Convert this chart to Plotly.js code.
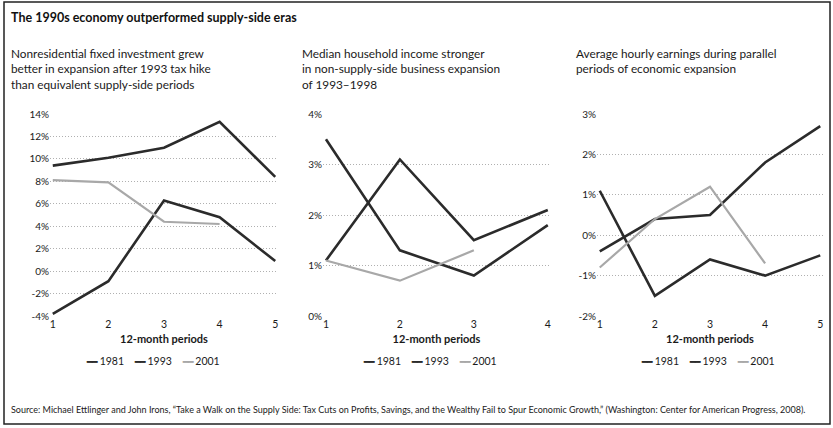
<!DOCTYPE html>
<html><head><meta charset="utf-8">
<script src="https://cdn.plot.ly/plotly-3.0.1.min.js"></script>
<style>html,body{margin:0;padding:0;background:#fff}#chart{width:833px;height:428px}</style>
</head><body><div id="chart"></div>
<script>
// ---- Data ----
const seriesNames = ['1981', '1993', '2001'];
const seriesColors = ['#2b2b2b', '#2b2b2b', '#a8a8a8'];

// Panel 1: Nonresidential fixed investment growth (%)
const p1Periods = [1, 2, 3, 4, 5];
const p1_1981 = [-3.8, -0.9, 6.3, 4.8, 0.9];
const p1_1993 = [9.4, 10.1, 11.0, 13.3, 8.4];
const p1_2001 = [8.1, 7.9, 4.4, 4.2];

// Panel 2: Median household income growth (%)
const p2Periods = [1, 2, 3, 4];
const p2_1981 = [3.5, 1.3, 0.8, 1.8];
const p2_1993 = [1.1, 3.1, 1.5, 2.1];
const p2_2001 = [1.1, 0.7, 1.3];

// Panel 3: Average hourly earnings growth (%)
const p3Periods = [1, 2, 3, 4, 5];
const p3_1981 = [1.1, -1.5, -0.6, -1.0, -0.5];
const p3_1993 = [-0.4, 0.4, 0.5, 1.8, 2.7];
const p3_2001 = [-0.8, 0.4, 1.2, -0.7];

const p1Ticks = [-4, -2, 0, 2, 4, 6, 8, 10, 12, 14];
const p2Ticks = [0, 1, 2, 3, 4];
const p3Ticks = [-2, -1, 0, 1, 2, 3];

const chartTitle = 'The 1990s economy outperformed supply-side eras';
const subtitles = [
  'Nonresidential fixed investment grew<br>better in expansion after 1993 tax hike<br>than equivalent supply-side periods',
  'Median household income stronger<br>in non-supply-side business expansion<br>of 1993–1998',
  'Average hourly earnings during parallel<br>periods of economic expansion'
];
const xTitle = '12-month periods';
const sourceText = 'Source: Michael Ettlinger and John Irons, “Take a Walk on the Supply Side: Tax Cuts on Profits, Savings, and the Wealthy Fail to Spur Economic Growth,” (Washington: Center for American Progress, 2008).';

// ---- Layout helpers ----
const W = 833, H = 428;
const px = v => v / W;
const py = v => 1 - v / H;
const FONT = 'Lato, "Open Sans", sans-serif';

const panels = [
  {x: p1Periods, s: [p1_1981, p1_1993, p1_2001], ticks: p1Ticks, yr: [-4, 14], xr: [0.95, 5.05], dom: [50, 278], sub: 9, leg: 153},
  {x: p2Periods, s: [p2_1981, p2_1993, p2_2001], ticks: p2Ticks, yr: [0, 4], xr: [0.96, 4.03], dom: [323, 550], sub: 300, leg: 430},
  {x: p3Periods, s: [p3_1981, p3_1993, p3_2001], ticks: p3Ticks, yr: [-2, 3], xr: [0.95, 5.05], dom: [597, 823], sub: 574, leg: 708}
];

const traces = [];
const layout = {
  width: W, height: H,
  margin: {l: 0, r: 0, t: 0, b: 0},
  paper_bgcolor: '#fff', plot_bgcolor: '#fff',
  showlegend: false,
  font: {family: FONT, color: '#1a1a1a', size: 10},
  annotations: [],
  shapes: [{type: 'rect', xref: 'paper', yref: 'paper', x0: px(4), x1: px(830), y0: py(424), y1: py(2), line: {color: '#222', width: 1.5}}]
};

panels.forEach((p, i) => {
  const n = i === 0 ? '' : String(i + 1);
  p.s.forEach((vals, k) => {
    traces.push({
      type: 'scatter', mode: 'lines',
      x: p.x.slice(0, vals.length), y: vals,
      name: seriesNames[k],
      xaxis: 'x' + n, yaxis: 'y' + n,
      line: {color: seriesColors[k], width: k === 2 ? 2.2 : 2.6},
      hoverinfo: 'skip'
    });
  });
  layout['xaxis' + n] = {
    domain: [px(p.dom[0]), px(p.dom[1])], range: p.xr, anchor: 'y' + n,
    tickvals: p.x, ticktext: p.x.map(String), ticks: '', showgrid: false, zeroline: false, showline: false,
    tickfont: {size: 10.5, family: FONT, color: '#1a1a1a'},
    title: {text: xTitle, font: {size: 11, family: FONT, color: '#1a1a1a', weight: 'bold'}, standoff: 6}
  };
  layout['yaxis' + n] = {
    domain: [py(316), py(114)], range: p.yr, anchor: 'x' + n,
    tickvals: p.ticks, ticktext: p.ticks.map(v => v + '%'), ticks: '',
    showgrid: true, gridcolor: '#b0b0b0', griddash: '1px,2px', gridwidth: 1,
    zeroline: false, showline: false,
    tickfont: {size: 10, family: FONT, color: '#1a1a1a'}
  };
  layout.annotations.push({
    xref: 'paper', yref: 'paper', x: px(p.sub), y: py(44), xanchor: 'left', yanchor: 'top', align: 'left',
    showarrow: false, text: subtitles[i], font: {size: 11.8, family: FONT, color: '#1a1a1a'}
  });
  const legText = seriesNames.map((nm, k) =>
    `<span style="color:${seriesColors[k]};font-size:9px"><b>━━</b></span> ${nm}`).join('    ');
  layout.annotations.push({
    xref: 'paper', yref: 'paper', x: px(p.leg), y: py(361), xanchor: 'center', yanchor: 'middle',
    showarrow: false, text: legText, font: {size: 10.5, family: FONT, color: '#1a1a1a'}
  });
});

layout.annotations.push({
  xref: 'paper', yref: 'paper', x: px(9), y: py(18), xanchor: 'left', yanchor: 'middle',
  showarrow: false, text: '<b>' + chartTitle + '</b>', font: {size: 12.5, family: FONT, color: '#111'}
});
layout.annotations.push({
  xref: 'paper', yref: 'paper', x: px(9), y: py(409), xanchor: 'left', yanchor: 'middle',
  showarrow: false, text: sourceText, font: {size: 9, family: FONT, color: '#1a1a1a'}
});

Plotly.newPlot('chart', traces, layout, {staticPlot: true, displayModeBar: false});
</script></body></html>
